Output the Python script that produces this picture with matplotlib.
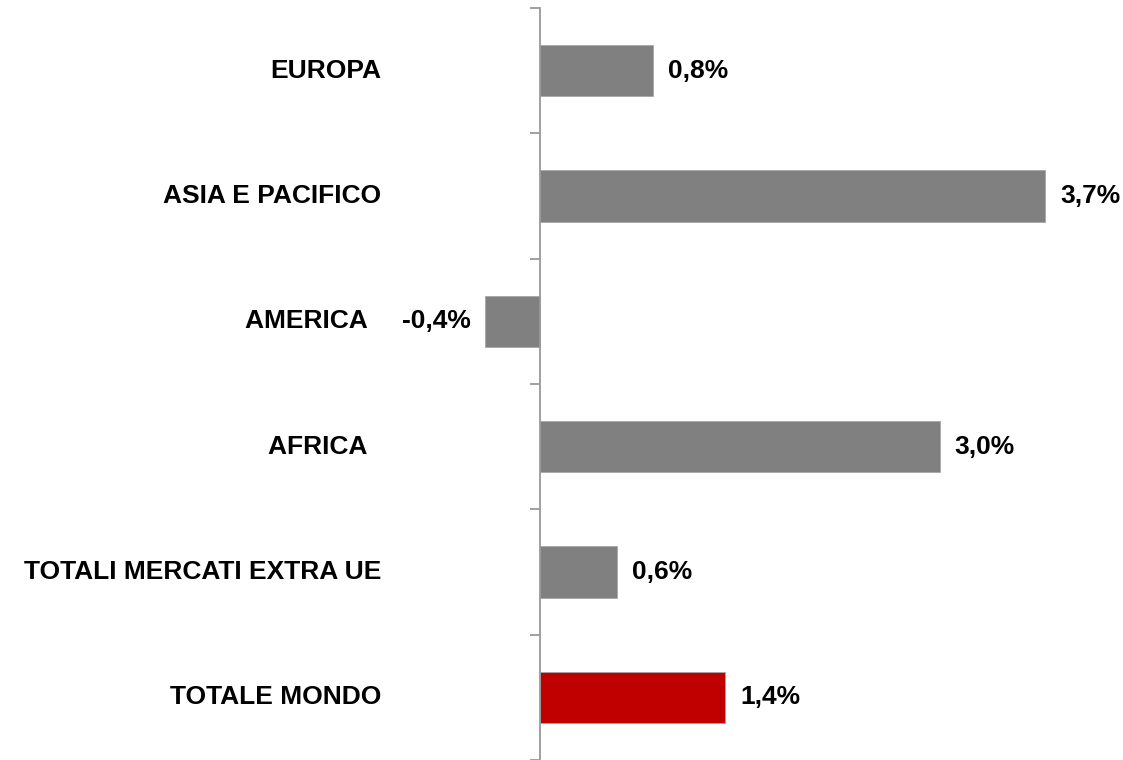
import matplotlib
matplotlib.use('Agg')
import matplotlib.pyplot as plt

# dati (variazione %)
categorie = ['EUROPA', 'ASIA E PACIFICO', 'AMERICA  ', 'AFRICA  ',
             'TOTALI MERCATI EXTRA UE', 'TOTALE MONDO']
valori = [0.84, 3.74, -0.41, 2.96, 0.57, 1.37]
colori = ['#808080', '#808080', '#808080', '#808080', '#808080', '#C00000']

plt.rcParams['font.family'] = ['Liberation Sans', 'DejaVu Sans']

fig = plt.figure(figsize=(11.23, 7.6), dpi=100)
ax = fig.add_axes([472.5 / 1123, 0, 607.5 / 1123, 752 / 760])

pos = list(range(len(categorie)))
ax.barh(pos, valori, height=0.41, color=colori, edgecolor='#a6a6a6', linewidth=0.6)

ax.set_xlim(-0.5, 4.0)
ax.set_ylim(len(categorie) - 0.5, -0.5)

# solo l'asse verticale sullo zero
for s in ['top', 'right', 'bottom']:
    ax.spines[s].set_visible(False)
ax.spines['left'].set_position(('data', 0))
ax.spines['left'].set_color('#999999')
ax.spines['left'].set_linewidth(1.3)
ax.set_xticks([])
ax.set_yticks([p - 0.5 for p in pos] + [len(categorie) - 0.5])
ax.set_yticklabels([])
ax.tick_params(axis='y', direction='out', length=7, width=1.3, color='#999999')

# etichette delle categorie
for p, nome in zip(pos, categorie):
    ax.text(-1.175, p, nome, ha='right', va='center', fontsize=19,
            fontweight='bold', clip_on=False)

# etichette dei valori
for p, v in zip(pos, valori):
    testo = f'{v:.1f}%'.replace('.', ',')
    if v >= 0:
        ax.annotate(testo, (v, p), xytext=(15, 0), textcoords='offset pixels',
                    ha='left', va='center', fontsize=19, fontweight='bold')
    else:
        ax.annotate(testo, (v, p), xytext=(-14, 0), textcoords='offset pixels',
                    ha='right', va='center', fontsize=19, fontweight='bold')

plt.savefig('out.png', dpi=100)
